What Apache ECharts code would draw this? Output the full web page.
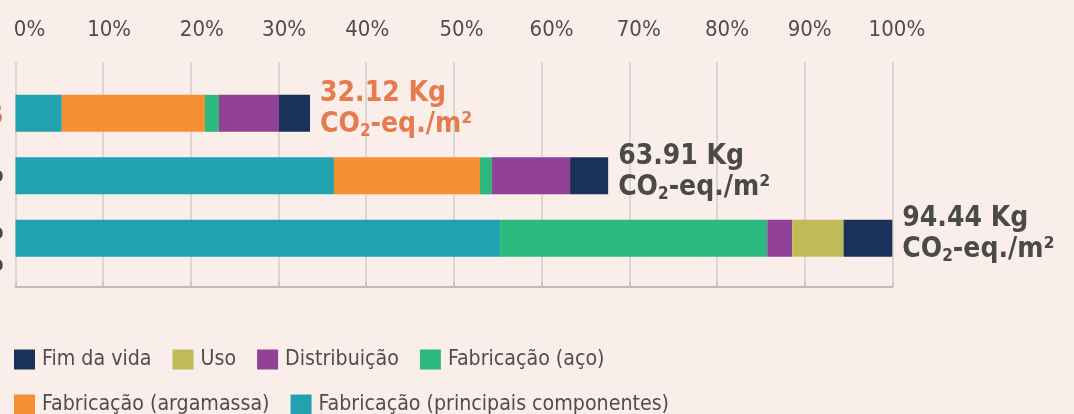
<!DOCTYPE html>
<html><head><meta charset="utf-8">
<script src="https://cdn.jsdelivr.net/npm/echarts@6/dist/echarts.min.js"></script>
<style>html,body{margin:0;padding:0;background:#F9EEEA;} #c{width:1074px;height:414px;}</style>
</head><body><div id="c"></div><script>
// ---- data ----
const categories = ['Painéis EPS', 'Alvenaria de bloco cerâmico', 'Parede de concreto\nmoldada in loco'];
const totals = ['32.12', '63.91', '94.44'];
const tickLabels = ['0%', '10%', '20%', '30%', '40%', '50%', '60%', '70%', '80%', '90%', '100%'];
const seriesNames = ['Fabricação (principais componentes)', 'Fabricação (argamassa)', 'Fabricação (aço)', 'Distribuição', 'Uso', 'Fim da vida'];
const principais = [5.28, 36.32, 55.27];
const argamassa = [16.32, 16.66, 0];
const aco = [1.60, 1.37, 30.47];
const distribuicao = [6.85, 8.90, 2.85];
const uso = [0, 0, 5.85];
const fimDaVida = [3.54, 4.34, 5.56];
const legendRow1 = ['Fim da vida', 'Uso', 'Distribuição', 'Fabricação (aço)'];
const legendRow2 = ['Fabricação (argamassa)', 'Fabricação (principais componentes)'];

// ---- style ----
const F = "'DejaVu Sans Condensed', 'DejaVu Sans', sans-serif";
const colors = ['#22A2AF', '#F68F31', '#2DB880', '#914196', '#C1BB57', '#1A325A'];
const values = [principais, argamassa, aco, distribuicao, uso, fimDaVida];
const ORANGE = '#E57B4E', GRAY = '#4A4A4A';
// small horizontal nudges of the tick labels, as in the source artwork
const tickNudge = [14, 6, 11, 5.5, 1, 7.6, 10, 9.5, 10, 5, 4.6];
const tickRich = {};
tickNudge.forEach((n, i) => {
  tickRich['t' + i] = {color: '#4E4E4E', fontSize: 22, fontFamily: F, padding: [0, 0, 0, 2 * n]};
});

const chart = echarts.init(document.getElementById('c'), null, {renderer: 'canvas'});

const series = seriesNames.map((name, i) => {
  const s = {
    name, type: 'bar', stack: 'total', xAxisIndex: 2, yAxisIndex: 1,
    barWidth: 37, data: values[i], itemStyle: {color: colors[i]}, emphasis: {disabled: true}
  };
  if (i === seriesNames.length - 1) {
    s.label = {
      show: true, position: 'right', distance: 10, offset: [0, -4],
      formatter: p => {
        const k = p.dataIndex === 0 ? 'o' : 'g';
        return `{${k}|${totals[p.dataIndex]} Kg}\n{${k}|CO}{${k}s|2}{${k}|-eq./m²}`;
      },
      rich: {
        o: {color: ORANGE, fontSize: 28, fontWeight: 'bold', fontFamily: F, lineHeight: 31},
        os: {color: ORANGE, fontSize: 17, fontWeight: 'bold', fontFamily: F, lineHeight: 31, verticalAlign: 'bottom'},
        g: {color: GRAY, fontSize: 28, fontWeight: 'bold', fontFamily: F, lineHeight: 31},
        gs: {color: GRAY, fontSize: 17, fontWeight: 'bold', fontFamily: F, lineHeight: 31, verticalAlign: 'bottom'}
      }
    };
  }
  return s;
});

const legendCommon = {
  orient: 'horizontal', left: 14, padding: 0, itemWidth: 21, itemHeight: 20, itemGap: 21, icon: 'rect',
  selectedMode: false,
  textStyle: {color: '#4E4E4E', fontSize: 21.2, fontFamily: F, padding: [0, 0, 0, 2]}
};

chart.setOption({
  backgroundColor: '#F9EEEA',
  animation: false,
  grid: [
    {left: 15.5, right: 181.7, top: 62, height: 225, outerBoundsMode: 'none', containLabel: false},
    {left: 15.5, right: 181.7, top: 82.1, height: 187.5, outerBoundsMode: 'none', containLabel: false}
  ],
  legend: [
    Object.assign({}, legendCommon, {top: 349, data: legendRow1}),
    Object.assign({}, legendCommon, {top: 394, data: legendRow2})
  ],
  xAxis: [
    {
      type: 'value', gridIndex: 0, position: 'top', min: 0, max: 100, interval: 10,
      axisLine: {show: true, lineStyle: {color: '#BDBDBD', width: 2}},
      axisTick: {show: true, length: 5, lineStyle: {color: '#C8C4C2', width: 1.5}},
      splitLine: {show: true, lineStyle: {color: '#D3CFCD', width: 1.5}},
      axisLabel: {
        margin: 21, color: '#4E4E4E', fontSize: 22, fontFamily: F,
        formatter: (v, idx) => {
          const i = Math.round(v / 10);
          return `{t${i}|${tickLabels[i]}}`;
        },
        rich: tickRich
      }
    },
    {
      type: 'value', gridIndex: 0, position: 'bottom', min: 0, max: 100,
      axisLine: {show: true, onZero: false, lineStyle: {color: '#BDBDBD', width: 2}},
      axisTick: {show: false}, axisLabel: {show: false}, splitLine: {show: false}
    },
    {type: 'value', gridIndex: 1, min: 0, max: 100, show: false, splitLine: {show: false}}
  ],
  yAxis: [
    {type: 'value', gridIndex: 0, min: 0, max: 1, show: false, splitLine: {show: false}},
    {
      type: 'category', gridIndex: 1, inverse: true, data: categories,
      axisLine: {show: false}, axisTick: {show: false}, splitLine: {show: false},
      axisLabel: {
        margin: 12,
        formatter: (v, i) => {
          const lines = v.split('\n');
          if (i === 0) return `{sa| }\n{o|${lines[0]}}`;
          if (lines.length > 1) return `{sb| }\n` + lines.map(l => `{g|${l}}`).join('\n');
          return `{g|${lines[0]}}`;
        },
        rich: {
          sa: {fontSize: 4, lineHeight: 6},
          sb: {fontSize: 4, lineHeight: 21},
          o: {color: ORANGE, fontSize: 24, fontWeight: 'bold', fontFamily: F, lineHeight: 31},
          g: {color: GRAY, fontSize: 22, fontWeight: 'bold', fontFamily: F, lineHeight: 32}
        }
      }
    }
  ],
  series
});
</script></body></html>
